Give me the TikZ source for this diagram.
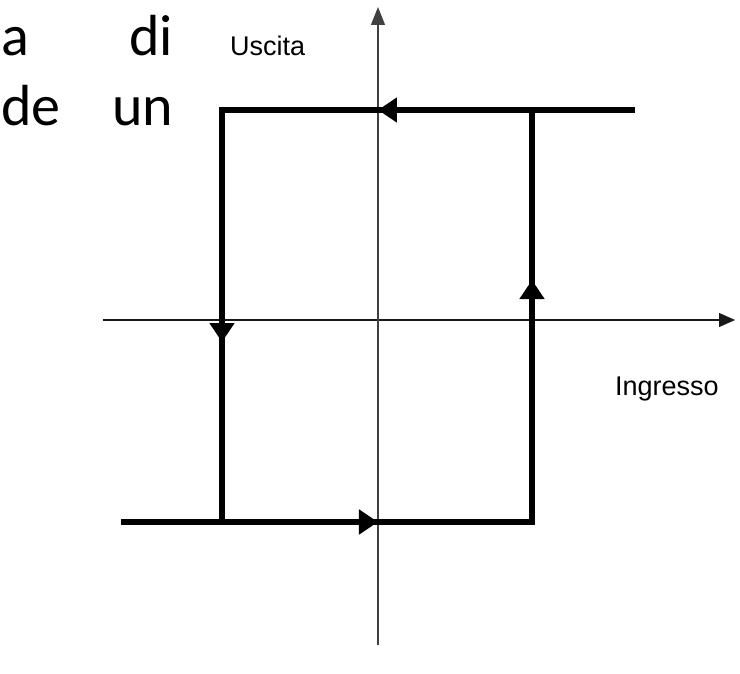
\documentclass[tikz,border=0pt]{standalone}
\usepackage{fontspec}
\setmainfont{Liberation Sans}
\newfontfamily\slidefont{Carlito}
\usepackage{tikz}
\usetikzlibrary{arrows.meta, positioning}

\begin{document}
\begin{tikzpicture}[
		x=1pt, y=1pt,
		axis/.style={draw=black!75, line width=1.3pt},
		loopline/.style={draw=black, line width=6.3pt, line join=miter},
		flow/.style={draw=black, line width=6.3pt, -{Triangle[length=19pt, width=24pt]}},
		lbl/.style={font=\fontsize{27}{32}\selectfont, inner sep=0pt},
		slide/.style={font=\slidefont\fontsize{58}{66}\selectfont, inner sep=0pt, anchor=base west}
		]
		\useasboundingbox (-378,-353) rectangle (362,320);
		
		% axes
		\coordinate (xs) at (-275,0);
		\coordinate (xe) at (357,0);
		\coordinate (ys) at (0,-325);
		\coordinate (ye) at (0,313);
		\draw[axis, draw=black!90, -{Triangle[length=16pt, width=14pt]}] (xs) -- (xe);
		\draw[axis, -{Triangle[length=18pt, width=14pt]}] (ys) -- (ye);
		
		% hysteresis loop
		\coordinate (topend) at (257,210);
		\coordinate (tr) at (154,210);
		\coordinate (tl) at (-156,210);
		\coordinate (bl) at (-156,-202);
		\coordinate (botend) at (-257,-202);
		\coordinate (br) at (154,-202);
		\draw[loopline] (topend) -- (tl) -- (bl);
		\draw[loopline] (botend) -- (br) -- (tr);
		
		\coordinate (ta) at (0,210);
		\coordinate (la) at (-156,-22);
		\coordinate (ba) at (0,-202);
		\coordinate (ra) at (154,40);
		\draw[flow] (tr) -- (ta);
		\draw[flow] (tl) -- (la);
		\draw[flow] (bl) -- (ba);
		\draw[flow] (br) -- (ra);
		
		% labels
		\node[lbl, anchor=base west] (out) at (-148,264) {Uscita};
		\node[lbl, anchor=base west] (in) at (237,-75) {Ingresso};
		
		% slide text behind
		\node[slide] (w1) at (-377,265) {a};
		\node[slide] (w2) at (-249,265) {di};
		\node[slide] (w3) at (-377,195) {de};
		\node[slide] (w4) at (-266,195) {un};
	\end{tikzpicture}
\end{document}
